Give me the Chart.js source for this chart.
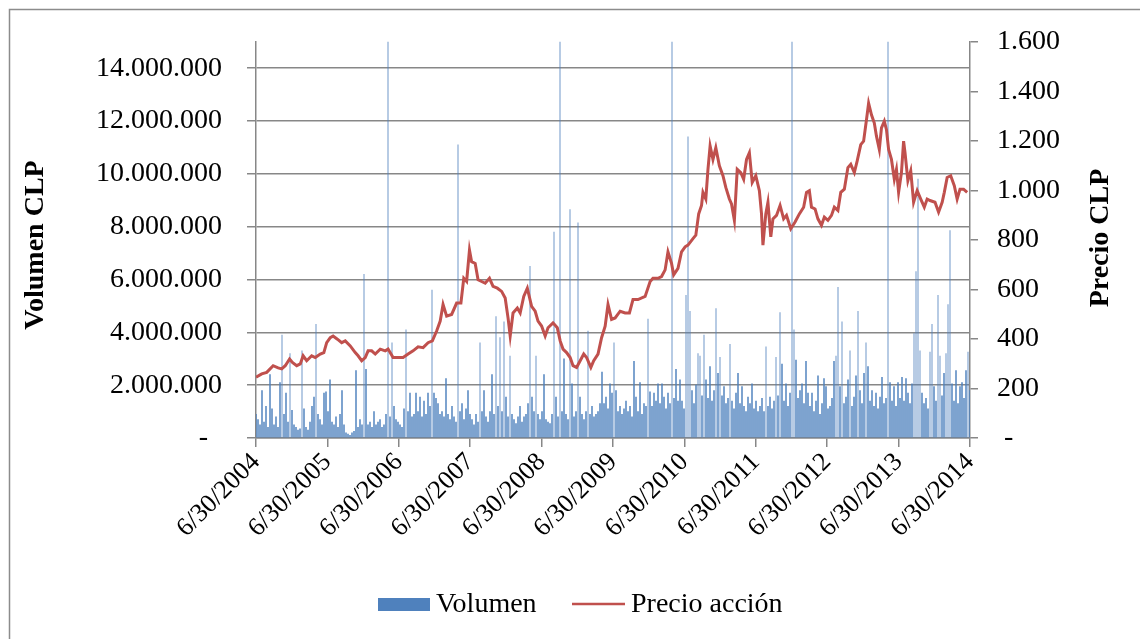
<!DOCTYPE html>
<html>
<head>
<meta charset="utf-8">
<script src="https://cdn.jsdelivr.net/npm/chart.js@4"></script>
<style>
  html, body { margin: 0; padding: 0; background: #fff; }
  canvas { display: block; }
</style>
</head>
<body>
<canvas id="chart" width="1140" height="639"></canvas>
<script>
// volumen diario (millones CLP), muestras igualmente espaciadas 6/30/2004 - 6/30/2014
const volValues = [
  0.9,0.7,0.5,1.8,0.6,1.2,0.4,2.4,1.1,0.5,
  0.8,0.4,2.1,3.9,0.9,1.7,0.6,3.2,1.05,0.5,
  0.4,0.3,0.35,3.3,1.1,0.4,0.3,0.6,1.2,1.55,
  4.3,0.9,0.7,0.5,1.7,1.75,1.0,2.2,0.6,0.5,
  0.8,0.4,0.9,1.8,0.5,0.2,0.15,0.1,0.2,0.25,
  2.55,0.4,0.7,0.5,6.2,2.6,0.5,0.6,0.4,1.0,
  0.5,0.6,0.7,0.4,0.5,0.9,16,0.8,3.6,1.2,
  0.7,0.6,0.5,0.4,1.1,4.1,1.0,1.7,0.8,0.9,
  1.7,1.0,1.55,0.8,1.4,0.9,1.7,1.2,5.6,1.7,
  1.5,1.3,0.9,1.0,0.8,2.25,0.9,0.7,1.2,0.8,
  0.6,11.1,1.0,1.3,0.7,1.1,1.8,0.9,0.7,0.5,
  0.9,0.6,3.6,1.0,1.8,0.8,0.6,1.0,2.4,0.9,
  4.6,1.2,3.8,1.0,4.4,1.55,0.8,3.1,0.9,0.7,
  0.55,0.8,1.2,0.6,0.8,0.9,1.3,6.5,1.55,1.0,
  3.1,0.9,0.7,1.0,2.4,0.7,0.6,0.55,0.9,7.8,
  1.55,0.8,16,1.0,3.0,0.9,0.7,8.65,2.05,0.8,
  1.0,8.15,1.55,0.9,0.7,1.0,4.05,0.9,1.2,0.8,
  0.9,1.0,1.3,2.5,1.3,1.55,1.1,2.05,1.7,3.6,
  1.8,1.0,1.2,0.9,1.1,1.4,1.0,1.2,0.8,2.9,
  1.55,1.0,2.1,0.9,1.3,1.2,4.5,1.75,1.2,1.7,
  1.4,2.05,1.3,2.05,1.55,1.1,1.7,1.3,16,1.5,
  2.6,1.4,2.2,1.4,1.1,5.4,11.4,4.8,1.8,1.3,
  2.0,3.2,3.1,1.6,3.9,2.2,1.5,2.7,1.4,1.8,
  4.9,2.45,3.05,1.6,1.95,1.3,1.5,3.55,1.4,1.1,
  1.7,2.45,1.3,1.95,1.2,1.0,1.55,1.3,2.05,1.1,
  1.4,1.0,1.2,1.5,1.0,3.45,1.2,1.55,1.1,1.4,
  3.05,1.6,4.75,2.8,1.4,2.05,1.2,1.7,16,4.1,
  2.95,1.5,1.8,2.05,1.3,2.9,1.7,1.2,1.7,1.0,
  1.4,2.35,0.9,1.3,2.25,1.95,1.1,1.2,1.5,2.9,
  3.1,5.7,1.95,4.4,1.3,1.55,2.2,3.3,1.2,1.55,
  2.35,4.8,1.8,1.3,2.45,3.6,2.7,1.4,1.8,1.2,
  1.7,1.1,1.55,2.3,1.3,1.5,16,2.1,1.4,1.95,
  1.2,2.1,1.5,2.3,1.4,2.25,1.7,1.3,2.05,3.95,
  6.3,9.8,3.3,1.7,1.3,1.5,1.1,3.25,4.3,1.95,
  1.4,5.4,3.1,1.6,2.45,3.2,5.05,7.85,2.05,1.4,
  2.55,1.3,1.95,2.1,1.5,2.55,3.25,1.8
];

// precio accion: fecha (año decimal) y valor
const priceYears = [
  2004.50,2004.58,2004.65,2004.74,2004.81,2004.86,2004.91,2004.97,
  2005.01,2005.07,2005.12,2005.16,2005.21,2005.28,2005.33,2005.40,2005.45,2005.49,2005.54,2005.58,2005.64,2005.70,2005.75,2005.82,2005.89,2005.93,2005.98,
  2006.03,2006.07,2006.12,2006.17,2006.24,2006.31,2006.35,2006.42,2006.49,2006.56,2006.63,2006.70,2006.77,2006.84,2006.91,2006.97,
  2007.03,2007.08,2007.12,2007.17,2007.24,2007.31,2007.37,2007.41,2007.45,2007.49,2007.52,2007.57,2007.61,2007.66,2007.71,2007.77,2007.82,2007.88,2007.94,2007.99,
  2008.03,2008.06,2008.10,2008.16,2008.20,2008.25,2008.30,2008.36,2008.41,2008.45,2008.50,2008.55,2008.59,2008.66,2008.72,2008.76,2008.80,2008.85,2008.90,2008.94,2008.99,
  2009.04,2009.09,2009.13,2009.19,2009.23,2009.29,2009.34,2009.39,2009.43,2009.48,2009.53,2009.60,2009.67,2009.73,2009.78,2009.85,2009.95,
  2010.02,2010.06,2010.13,2010.18,2010.23,2010.27,2010.32,2010.35,2010.41,2010.46,2010.51,2010.55,2010.62,2010.66,2010.70,2010.74,2010.76,2010.80,2010.83,2010.86,2010.90,2010.94,2010.99,
  2011.04,2011.08,2011.13,2011.16,2011.20,2011.24,2011.29,2011.33,2011.37,2011.41,2011.45,2011.50,2011.55,2011.58,2011.60,2011.64,2011.67,2011.71,2011.74,2011.79,2011.84,2011.89,2011.93,2011.99,
  2012.05,2012.11,2012.17,2012.21,2012.25,2012.28,2012.33,2012.37,2012.42,2012.46,2012.51,2012.56,2012.60,2012.65,2012.69,2012.74,2012.79,2012.83,2012.88,2012.92,2012.97,
  2013.01,2013.05,2013.08,2013.12,2013.16,2013.19,2013.23,2013.26,2013.30,2013.33,2013.36,2013.40,2013.44,2013.47,2013.50,2013.54,2013.57,2013.59,2013.63,2013.67,2013.71,2013.76,2013.81,2013.86,2013.90,2013.94,
  2014.01,2014.06,2014.11,2014.14,2014.18,2014.23,2014.28,2014.32,2014.36,2014.41,2014.46
];
const priceValues = [
  245,259,265,292,283,279,292,319,
  305,292,299,332,312,332,325,339,345,385,405,412,399,385,392,372,345,332,312,
  325,352,352,339,359,352,359,325,325,325,339,352,368,365,385,392,
  432,472,539,492,499,545,545,645,632,759,712,705,639,632,625,645,612,605,592,565,
  485,412,505,525,505,572,605,532,512,472,452,412,445,465,445,392,359,345,325,292,285,
  312,339,325,285,312,339,405,452,539,479,485,512,505,505,559,559,572,
  632,645,645,652,679,752,705,659,685,752,772,779,805,819,905,939,992,965,1085,1179,1125,1172,1099,
  1059,1012,965,945,879,1085,1072,1045,1125,1152,1032,1059,999,905,779,905,952,812,885,899,939,885,899,845,
  872,905,932,992,999,932,925,885,859,892,879,899,932,919,992,1005,1092,1105,1072,1119,1185,
  1199,1285,1352,1305,1272,1219,1165,1252,1279,1245,1165,1125,1045,1085,992,1072,1199,1152,1039,1079,952,999,965,932,965,959,
  952,912,952,992,1052,1059,1019,965,1005,1005,992
];

// etiquetas de ejes
const yearTicks = [2004, 2005, 2006, 2007, 2008, 2009, 2010, 2011, 2012, 2013, 2014];
const volTicks = [0, 2000000, 4000000, 6000000, 8000000, 10000000, 12000000, 14000000];
const priceTicks = [0, 200, 400, 600, 800, 1000, 1200, 1400, 1600];
const startYear = 2004.5;
const endYear = 2014.5;

const FONT = 'Liberation Serif, Times New Roman, serif';
const AXIS_GRAY = '#878787';
const BLUE = '#4F81BD';
const RED = '#C0504D';

function fmtMiles(v) {
    return String(Math.round(v)).replace(/\B(?=(\d{3})+(?!\d))/g, '.');
}

const volData = volValues.map((v, i) => ({
    x: startYear + i * (endYear - startYear) / (volValues.length - 1),
    y: v * 1000000
}));
const priceData = priceYears.map((yr, i) => ({ x: yr, y: priceValues[i] }));

// titulos de ejes, borde y leyenda
const decoPlugin = {
    id: 'deco',
    afterDraw(chart) {
        const ctx = chart.ctx;
        ctx.save();
        ctx.strokeStyle = '#8c8c8c';
        ctx.lineWidth = 1.5;
        ctx.beginPath();
        ctx.moveTo(9.5, 639);
        ctx.lineTo(9.5, 9.5);
        ctx.lineTo(1140, 9.5);
        ctx.stroke();

        ctx.fillStyle = '#000';
        ctx.font = 'bold 28px ' + FONT;
        ctx.textAlign = 'center';
        ctx.textBaseline = 'middle';
        ctx.save();
        ctx.translate(36, 245);
        ctx.rotate(-Math.PI / 2);
        ctx.fillText('Volumen CLP', 0, 0);
        ctx.restore();
        ctx.save();
        ctx.translate(1101, 238);
        ctx.rotate(-Math.PI / 2);
        ctx.fillText('Precio CLP', 0, 0);
        ctx.restore();

        // leyenda
        ctx.font = '28px ' + FONT;
        ctx.textAlign = 'left';
        ctx.fillStyle = BLUE;
        ctx.fillRect(378, 598, 52, 13);
        ctx.fillStyle = '#000';
        ctx.fillText('Volumen', 436, 605);
        ctx.strokeStyle = RED;
        ctx.lineWidth = 2.5;
        ctx.beginPath();
        ctx.moveTo(572, 604);
        ctx.lineTo(625, 604);
        ctx.stroke();
        ctx.fillText('Precio acción', 631, 605);
        ctx.restore();
    }
};

const ctx = document.getElementById('chart').getContext('2d');
new Chart(ctx, {
    type: 'bar',
    data: {
        datasets: [
            {
                type: 'line',
                label: 'Precio acción',
                data: priceData,
                yAxisID: 'y1',
                borderColor: RED,
                borderWidth: 3,
                pointRadius: 0,
                tension: 0,
                order: 0
            },
            {
                type: 'bar',
                label: 'Volumen',
                data: volData,
                yAxisID: 'y',
                // los picos altos se ven mas claros (lineas finas en el original)
                backgroundColor: (c) => (c.raw && c.raw.y > 3000000)
                    ? 'rgba(79, 129, 189, 0.42)'
                    : 'rgba(79, 129, 189, 0.75)',
                borderWidth: 0,
                barThickness: 1.3,
                order: 1
            }
        ]
    },
    options: {
        responsive: false,
        animation: false,
        devicePixelRatio: 1,
        layout: { padding: { top: 40, left: 0, right: 0, bottom: 0 } },
        plugins: {
            legend: { display: false },
            tooltip: { enabled: false }
        },
        scales: {
            x: {
                type: 'linear',
                min: startYear,
                max: endYear,
                offset: false,
                afterBuildTicks: (scale) => {
                    scale.ticks = yearTicks.map(y => ({ value: y + 0.5 }));
                },
                afterFit: (scale) => { scale.height = 201; },
                ticks: {
                    autoSkip: false,
                    minRotation: 45,
                    maxRotation: 45,
                    padding: 0,
                    color: '#000',
                    font: { family: FONT, size: 26 },
                    callback: (v) => '6/30/' + Math.round(v - 0.5)
                },
                grid: {
                    offset: false,
                    drawOnChartArea: false,
                    color: AXIS_GRAY,
                    lineWidth: 1.5,
                    tickLength: 9
                },
                border: { color: AXIS_GRAY, width: 1.5 }
            },
            y: {
                position: 'left',
                min: 0,
                max: 15000000,
                afterBuildTicks: (scale) => {
                    scale.ticks = volTicks.map(v => ({ value: v }));
                },
                afterFit: (scale) => { scale.width = 256; },
                ticks: {
                    autoSkip: false,
                    padding: 25,
                    color: '#000',
                    font: { family: FONT, size: 28 },
                    callback: (v) => v === 0 ? '-  ' : fmtMiles(v)
                },
                grid: {
                    color: AXIS_GRAY,
                    lineWidth: 1.5,
                    tickLength: 9
                },
                border: { color: AXIS_GRAY, width: 1.5 }
            },
            y1: {
                position: 'right',
                min: 0,
                max: 1600,
                afterBuildTicks: (scale) => {
                    scale.ticks = priceTicks.map(v => ({ value: v }));
                },
                afterFit: (scale) => { scale.width = 170; },
                ticks: {
                    autoSkip: false,
                    padding: 19,
                    color: '#000',
                    font: { family: FONT, size: 28 },
                    callback: (v) => v === 0 ? ' -' : fmtMiles(v)
                },
                grid: {
                    drawOnChartArea: false,
                    color: AXIS_GRAY,
                    lineWidth: 1.5,
                    tickLength: 8
                },
                border: { color: AXIS_GRAY, width: 1.5 }
            }
        }
    },
    plugins: [decoPlugin]
});
</script>
</body>
</html>
